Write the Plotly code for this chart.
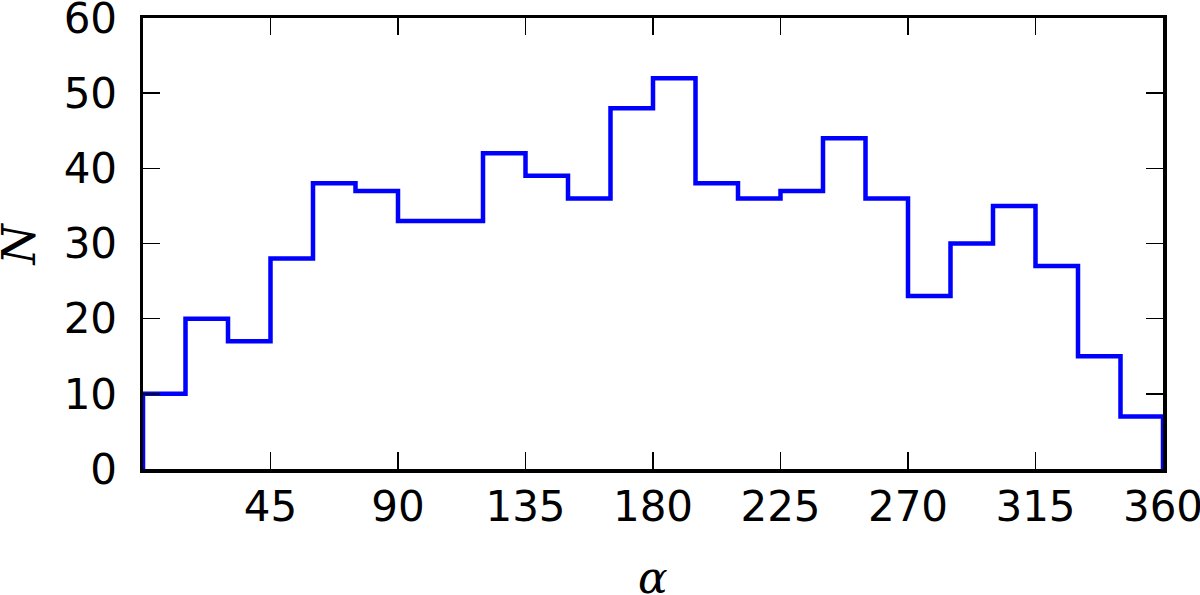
import plotly.graph_objects as go

bin_edges = list(range(0, 361, 15))
counts = [10, 20, 17, 28, 38, 37, 33, 33, 42, 39, 36, 48,
          52, 38, 36, 37, 44, 36, 23, 30, 35, 27, 15, 7]
x_ticks = [45, 90, 135, 180, 225, 270, 315, 360]
y_ticks = [0, 10, 20, 30, 40, 50, 60]

# step outline (matplotlib histtype='step')
xs = [bin_edges[0]] + bin_edges[:-1] + [bin_edges[-1], bin_edges[-1]]
ys = [0] + counts + [counts[-1], 0]

fig = go.Figure()
fig.add_trace(go.Scatter(x=xs, y=ys, mode="lines", line_shape="hv",
                         line=dict(color="#0000ff", width=4.5),
                         showlegend=False, hoverinfo="skip"))

axis_common = dict(showline=True, linecolor="black", linewidth=3.5,
                   mirror="allticks", ticks="inside", ticklen=17,
                   tickwidth=1.5, tickcolor="black", showgrid=False,
                   zeroline=False, automargin=False,
                   ticklabeloverflow="allow",
                   tickfont=dict(family="DejaVu Sans", size=42, color="black"))

fig.update_xaxes(range=[0, 360], tickvals=x_ticks,
                 ticktext=[str(v) for v in x_ticks], ticklabelstandoff=-2,
                 **axis_common)
fig.update_yaxes(range=[0, 60], tickvals=y_ticks,
                 ticktext=[str(v) for v in y_ticks], ticklabelstandoff=14,
                 **axis_common)

fig.add_annotation(text="<i>N</i>", xref="paper", yref="paper",
                   x=-0.1216, y=0.5, xanchor="center", yanchor="middle",
                   textangle=-90, showarrow=False,
                   font=dict(family="DejaVu Serif", size=46, color="black"))
fig.add_annotation(text="<i>α</i>", xref="paper", yref="paper",
                   x=0.5, y=-0.241, xanchor="center", yanchor="middle",
                   showarrow=False,
                   font=dict(family="DejaVu Serif", size=44, color="black"))

fig.update_layout(width=1200, height=595,
                  margin=dict(l=143, r=37, t=18, b=126),
                  plot_bgcolor="white", paper_bgcolor="white")

fig.write_html("out.html",
               config={"displayModeBar": False, "staticPlot": True},
               post_script="document.body.style.margin='0px';"
                           "document.body.style.overflow='hidden';")
